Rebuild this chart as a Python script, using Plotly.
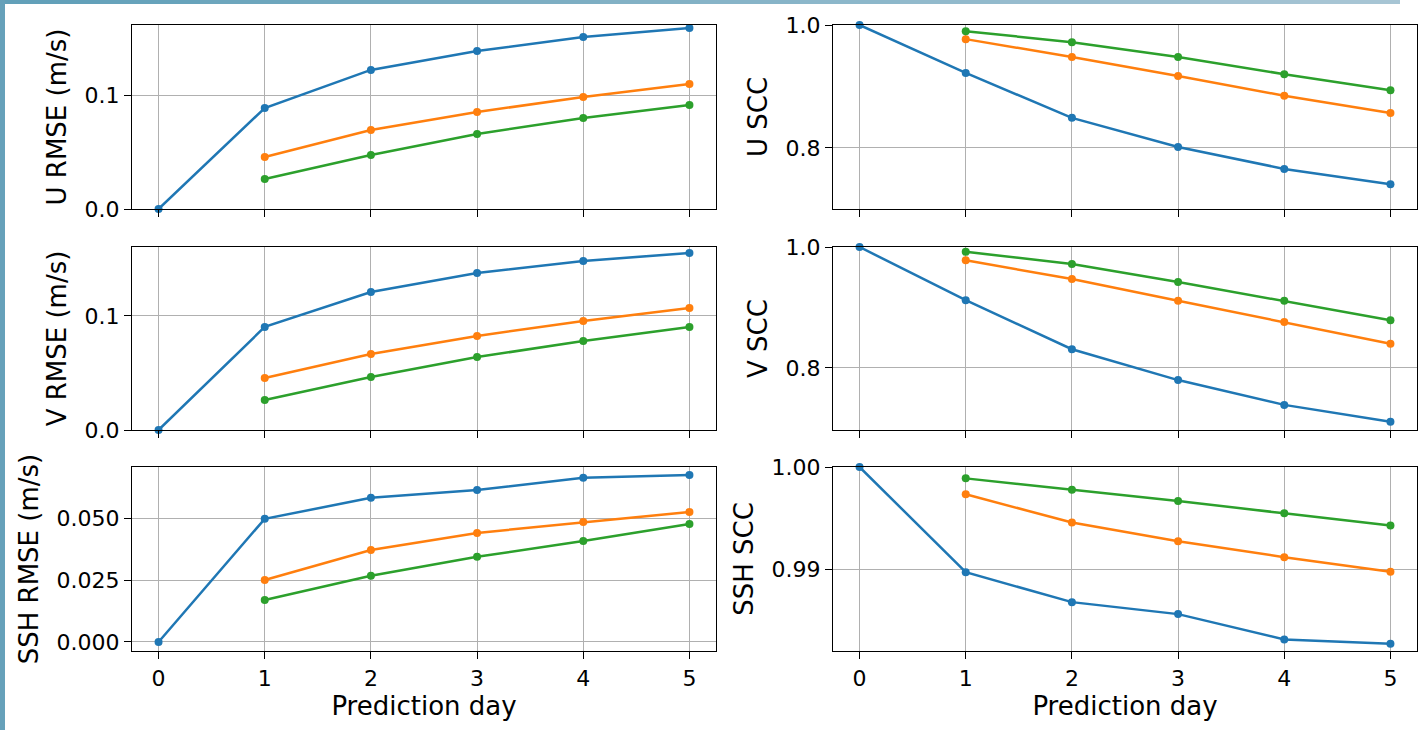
import plotly.graph_objects as go

days = [0, 1, 2, 3, 4, 5]
days_m = [1, 2, 3, 4, 5]

u_rmse_blue = [0.0, 0.0886, 0.1220, 0.1386, 0.1509, 0.1588]
u_rmse_orange = [0.0456, 0.0693, 0.0851, 0.0982, 0.1096]
u_rmse_green = [0.0263, 0.0474, 0.0658, 0.0798, 0.0912]

v_rmse_blue = [0.0, 0.0904, 0.1210, 0.1377, 0.1482, 0.1553]
v_rmse_orange = [0.0456, 0.0667, 0.0825, 0.0956, 0.1070]
v_rmse_green = [0.0263, 0.0465, 0.0640, 0.0780, 0.0904]

ssh_rmse_blue = [0.0, 0.0499, 0.0584, 0.0616, 0.0665, 0.0677]
ssh_rmse_orange = [0.0251, 0.0373, 0.0442, 0.0486, 0.0527]
ssh_rmse_green = [0.0170, 0.0268, 0.0345, 0.0409, 0.0478]

u_scc_blue = [1.0, 0.922, 0.849, 0.8016, 0.766, 0.741]
u_scc_orange = [0.977, 0.948, 0.917, 0.885, 0.857]
u_scc_green = [0.990, 0.972, 0.948, 0.920, 0.894]

v_scc_blue = [1.0, 0.912, 0.831, 0.780, 0.739, 0.711]
v_scc_orange = [0.978, 0.947, 0.911, 0.876, 0.840]
v_scc_green = [0.992, 0.972, 0.942, 0.911, 0.879]

ssh_scc_blue = [1.0, 0.98973, 0.98681, 0.98564, 0.98317, 0.98274]
ssh_scc_orange = [0.99734, 0.99458, 0.99276, 0.99120, 0.98977]
ssh_scc_green = [0.99889, 0.99779, 0.99669, 0.99548, 0.99428]

x_ticks = [0, 1, 2, 3, 4, 5]
x_title = "Prediction day"

panels = [
    # (row, col, ytitle, blue, orange, green, yrange, tickvals, ticktext)
    (1, 1, "U RMSE (m/s)", u_rmse_blue, u_rmse_orange, u_rmse_green,
     [0.0, 0.1614], [0.0, 0.1], ["0.0", "0.1"]),
    (1, 2, "U SCC", u_scc_blue, u_scc_orange, u_scc_green,
     [0.7008, 1.0], [0.8, 1.0], ["0.8", "1.0"]),
    (2, 1, "V RMSE (m/s)", v_rmse_blue, v_rmse_orange, v_rmse_green,
     [0.0, 0.1605], [0.0, 0.1], ["0.0", "0.1"]),
    (2, 2, "V SCC", v_scc_blue, v_scc_orange, v_scc_green,
     [0.6975, 1.0], [0.8, 1.0], ["0.8", "1.0"]),
    (3, 1, "SSH RMSE (m/s)", ssh_rmse_blue, ssh_rmse_orange, ssh_rmse_green,
     [-0.00365, 0.0709], [0.0, 0.025, 0.05], ["0.000", "0.025", "0.050"]),
    (3, 2, "SSH SCC", ssh_scc_blue, ssh_scc_orange, ssh_scc_green,
     [0.98204, 1.0], [0.99, 1.0], ["0.99", "1.00"]),
]

colors = {"blue": "#1f77b4", "orange": "#ff7f0e", "green": "#2ca02c"}

W, H = 1420, 730
ml, mr, mt, mb = 132, 3, 25, 79
pw, ph = W - ml - mr, H - mt - mb

def px_x(px):
    return (px - ml) / pw

def px_y(py):
    return (H - mb - py) / ph

col_dom = {1: [px_x(132), px_x(716)], 2: [px_x(833), px_x(1417)]}
row_dom = {1: [px_y(209), px_y(25)], 2: [px_y(430), px_y(247)], 3: [px_y(651), px_y(467)]}

fig = go.Figure()
FONT = "DejaVu Sans, Verdana, sans-serif"
layout = {}
for i, (r, c, ytitle, b, o, g, yr, tv, tt) in enumerate(panels):
    idx = i + 1
    xa = "x" if idx == 1 else f"x{idx}"
    ya = "y" if idx == 1 else f"y{idx}"
    for xs, ys, cname in [(days, b, "blue"), (days_m, o, "orange"), (days_m, g, "green")]:
        fig.add_trace(go.Scatter(
            x=xs, y=ys, xaxis=xa, yaxis=ya, mode="lines+markers",
            line=dict(color=colors[cname], width=2.5),
            marker=dict(color=colors[cname], size=8),
            showlegend=False, cliponaxis=False,
        ))
    xkey = "xaxis" if idx == 1 else f"xaxis{idx}"
    ykey = "yaxis" if idx == 1 else f"yaxis{idx}"
    layout[xkey] = dict(
        domain=col_dom[c], anchor=ya, range=[-0.25, 5.25],
        tickvals=x_ticks, ticktext=[str(t) for t in x_ticks],
        showticklabels=(r == 3),
        ticks="outside", ticklen=7, tickwidth=1.3, tickcolor="black",
        showline=True, linecolor="black", linewidth=1.3, mirror=True,
        showgrid=True, gridcolor="#b0b0b0", gridwidth=1.4,
        zeroline=False, tickfont=dict(family=FONT, size=22, color="black"),
        title=dict(text=x_title if r == 3 else "", font=dict(family=FONT, size=26, color="black"), standoff=6),
    )
    layout[ykey] = dict(
        domain=row_dom[r], anchor=xa, range=yr,
        tickvals=tv, ticktext=tt,
        ticks="outside", ticklen=7, tickwidth=1.3, tickcolor="black",
        showline=True, linecolor="black", linewidth=1.3, mirror=True,
        showgrid=True, gridcolor="#b0b0b0", gridwidth=1.4,
        zeroline=False, tickfont=dict(family=FONT, size=22, color="black"),
        title=dict(text=ytitle, font=dict(family=FONT, size=26, color="black"), standoff=10),
    )

# decorative border strips (top and left)
shapes = []
def hexmix(c1, c2, t):
    a = [int(c1[i:i + 2], 16) for i in (1, 3, 5)]
    bb = [int(c2[i:i + 2], 16) for i in (1, 3, 5)]
    return "#" + "".join(f"{round(a[k] + (bb[k] - a[k]) * t):02x}" for k in range(3))

nseg = 14
for k in range(nseg):
    x0 = k * 1400 / nseg
    x1 = (k + 1) * 1400 / nseg
    col = hexmix("#62a0b9", "#a7c5d4", k / (nseg - 1))
    shapes.append(dict(type="rect", xref="paper", yref="paper",
                       x0=px_x(x0), x1=px_x(x1), y0=px_y(4), y1=px_y(0),
                       fillcolor=col, line=dict(width=0), layer="above"))
shapes.append(dict(type="rect", xref="paper", yref="paper",
                   x0=px_x(0), x1=px_x(5), y0=px_y(730), y1=px_y(0),
                   fillcolor="#66a1ba", line=dict(width=0), layer="above"))

fig.update_layout(
    width=W, height=H, margin=dict(l=ml, r=mr, t=mt, b=mb),
    paper_bgcolor="white", plot_bgcolor="white",
    shapes=shapes, showlegend=False, **layout,
)
fig.write_html("out.html", config={"displayModeBar": False},
               post_script="document.body.style.margin='0';document.body.style.overflow='hidden';")
